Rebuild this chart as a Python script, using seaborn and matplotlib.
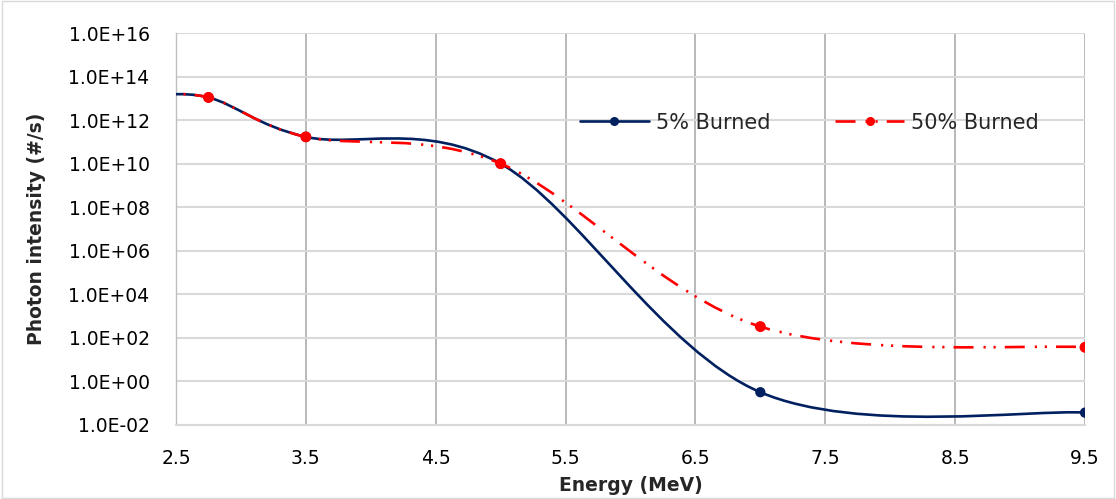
import numpy as np
import seaborn as sns
import matplotlib.pyplot as plt
from matplotlib.path import Path
from matplotlib.patches import PathPatch, Rectangle
from matplotlib.lines import Line2D

# data points (first point lies just left of the visible axis range)
energy = [2.25, 2.75, 3.5, 5.0, 7.0, 9.5]
burned_5 = [1.25e13, 1.1e13, 1.7e11, 1.0e10, 0.32, 0.037]
burned_50 = [1.25e13, 1.1e13, 1.7e11, 1.0e10, 330.0, 37.0]

x_ticks = [2.5, 3.5, 4.5, 5.5, 6.5, 7.5, 8.5, 9.5]
x_tick_labels = ["2.5", "3.5", "4.5", "5.5", "6.5", "7.5", "8.5", "9.5"]
y_ticks = [1e-2, 1e0, 1e2, 1e4, 1e6, 1e8, 1e10, 1e12, 1e14, 1e16]
y_tick_labels = ["1.0E-02", "1.0E+00", "1.0E+02", "1.0E+04", "1.0E+06",
                 "1.0E+08", "1.0E+10", "1.0E+12", "1.0E+14", "1.0E+16"]

BLUE = "#002060"
RED = "#ff0000"


def smooth_path(xs, ys):
    """Excel-like smoothed line: cubic Bezier through the points in (x, log y) space."""
    lx = np.asarray(xs, float)
    ly = np.log10(np.asarray(ys, float))
    n = len(lx)
    verts = [(lx[0], ly[0])]
    codes = [Path.MOVETO]
    for i in range(n - 1):
        a = max(i - 1, 0)
        b = min(i + 2, n - 1)
        c1 = (lx[i] + (lx[i + 1] - lx[a]) / 6, ly[i] + (ly[i + 1] - ly[a]) / 6)
        c2 = (lx[i + 1] - (lx[b] - lx[i]) / 6, ly[i + 1] - (ly[b] - ly[i]) / 6)
        verts += [c1, c2, (lx[i + 1], ly[i + 1])]
        codes += [Path.CURVE4] * 3
    verts = np.array(verts)
    verts[:, 1] = 10 ** verts[:, 1]
    return Path(verts, codes)


sns.set_theme(style="white")
plt.rcParams["font.family"] = ["DejaVu Sans"]
plt.rcParams["lines.scale_dashes"] = False

fig = plt.figure(figsize=(11.16, 4.99), dpi=100)
ax = fig.add_axes([176 / 1116, 74 / 499, 909 / 1116, 392 / 499])
ax.set_yscale("log")

red_dash = (0, (14.4, 7.2, 1.6, 5.6, 1.6, 6.5))

# 5% burned
ax.add_patch(PathPatch(smooth_path(energy, burned_5), fill=False,
                       edgecolor=BLUE, lw=1.9, zorder=3))
sns.scatterplot(x=energy, y=burned_5, ax=ax, color=BLUE, s=55,
                edgecolor="none", zorder=4, legend=False)

# 50% burned
ax.add_patch(PathPatch(smooth_path(energy, burned_50), fill=False,
                       edgecolor=RED, lw=1.9, linestyle=red_dash, zorder=5))
sns.scatterplot(x=energy, y=burned_50, ax=ax, color=RED, s=62,
                edgecolor="none", zorder=6, legend=False)

ax.set_xlim(2.5, 9.5)
ax.set_ylim(1e-2, 1e16)
ax.set_xticks(x_ticks)
ax.set_xticklabels(x_tick_labels)
ax.set_yticks(y_ticks)
ax.set_yticklabels(y_tick_labels)
ax.minorticks_off()
ax.tick_params(axis="both", length=0, labelsize=13.5, colors="black")
ax.tick_params(axis="y", pad=19)
ax.tick_params(axis="x", pad=17)

ax.xaxis.grid(True, color="#a6a6a6", lw=1.1)
ax.yaxis.grid(True, color="#d9d9d9", lw=1.5)
ax.set_axisbelow(True)
for side in ["top", "right"]:
    ax.spines[side].set_visible(False)
ax.spines["left"].set_color("#bfbfbf")
ax.spines["bottom"].set_color("#d9d9d9")
ax.spines["left"].set_linewidth(1.0)
ax.spines["bottom"].set_linewidth(1.5)

ax.set_xlabel("Energy (MeV)", fontsize=13.5, fontweight="bold", labelpad=6)
ax.set_ylabel("Photon intensity (#/s)", fontsize=13.5, fontweight="bold", labelpad=16)

handles = [
    Line2D([], [], color=BLUE, lw=1.9, marker="o", markersize=5.5),
    Line2D([], [], color=RED, lw=1.9, linestyle=red_dash, marker="o", markersize=5.5),
]
fig.legend(handles, ["5% Burned", "50% Burned"], loc="center left",
           bbox_to_anchor=(580 / 1116, 1 - 122.7 / 499), ncol=2, frameon=False,
           fontsize=15, handlelength=3.3, handletextpad=0.35, columnspacing=3.1,
           borderpad=0, borderaxespad=0, numpoints=1)

fig.patches.append(Rectangle((0.002, 0.003), 0.996, 0.994, transform=fig.transFigure,
                             fill=False, edgecolor="#d9d9d9", lw=1.0))

fig.savefig("out.png", dpi=100)
